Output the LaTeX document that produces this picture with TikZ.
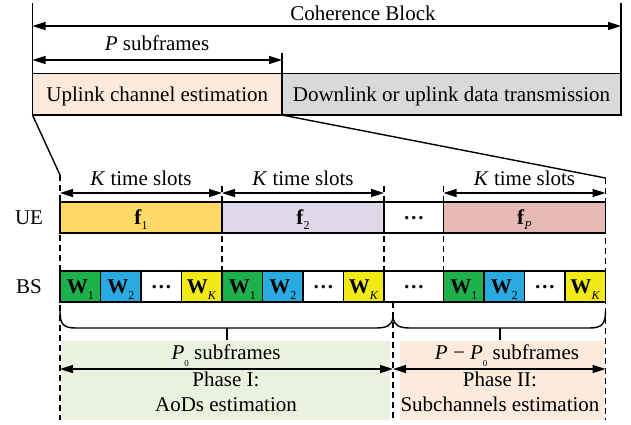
\documentclass[tikz,border=0pt]{standalone}
\usepackage{fontspec}
\setmainfont{Liberation Serif}
\usetikzlibrary{arrows.meta}
\definecolor{uplc}{RGB}{251,234,220}
\definecolor{dnc}{RGB}{217,217,217}
\definecolor{fone}{RGB}{255,217,102}
\definecolor{ftwo}{RGB}{223,216,232}
\definecolor{fpc}{RGB}{230,185,181}
\definecolor{wgreen}{RGB}{30,176,76}
\definecolor{wblue}{RGB}{41,171,226}
\definecolor{wyel}{RGB}{242,234,22}
\definecolor{phone}{RGB}{235,241,223}
\definecolor{phtwo}{RGB}{252,234,221}
\newcommand\sbsub[2]{\raisebox{#1}{\fontsize{12}{12}\selectfont #2}}
\newcommand\cdotsbox{\raisebox{5pt}{\textbf{…}}}
\begin{document}
\begin{tikzpicture}[x=1pt,y=-1pt,
  every node/.style={font=\fontsize{21}{25}\selectfont, inner sep=0pt, outer sep=0pt},
  lbl/.style={anchor=base},
  dimline/.style={{Triangle[length=13pt,width=8pt]}-{Triangle[length=13pt,width=8pt]}, line width=1.5pt},
  bigbox/.style={minimum height=42pt, text height=14pt, text depth=0pt},
  cellbox/.style={draw, line width=1.6pt, minimum height=31pt, text height=14pt, text depth=0pt},
  guide/.style={line width=1.5pt, dash pattern=on 6pt off 4pt},
  solidln/.style={line width=1.5pt}
]
\useasboundingbox (0,0) rectangle (631,424);

% bottom phase backgrounds
\fill[phone] (61,341) rectangle (390,420);
\fill[phtwo] (400,341) rectangle (605,420);

% top boxes
\node[bigbox, fill=uplc, minimum width=249.5pt] (up) at (157.25,94) {Uplink channel estimation};
\node[bigbox, fill=dnc, minimum width=339pt] (dn) at (451.5,94) {Downlink or uplink data transmission};
\draw[line width=0.9pt] (up.north west) -- (dn.north east);
\draw[line width=1.6pt] (up.north west) -- (up.south west) -- (dn.south east) -- (dn.north east);
\draw[line width=1.6pt] (up.north east) -- (up.south east);

% top dimension lines
\coordinate (tl) at (32.5,3);
\coordinate (tr) at (621,3);
\draw[solidln] (tl) -- (up.north west);
\draw[solidln] (tr) -- (dn.north east);
\coordinate (cbL) at (32.5,26);
\coordinate (cbR) at (621,26);
\draw[dimline] (cbL) -- (cbR);
\node[lbl] (cbt) at (363,20.5) {Coherence Block};
\coordinate (psL) at (32.5,60);
\coordinate (psR) at (282,60);
\coordinate (psT) at (282,53);
\draw[solidln] (psT) -- (up.north east);
\draw[dimline] (psL) -- (psR);
\node[lbl] (pst) at (157,50) {\textit{P} subframes};

% zoom lines
\coordinate (dl) at (60,175);
\coordinate (dr) at (605.5,178);
\draw[line width=1.4pt] (up.south west) -- (dl);
\draw[line width=1.4pt] (up.south east) -- (dr);

% UE row
\node[lbl] (uel) at (29,224.5) {UE};
\node[cellbox, fill=fone, minimum width=162pt] (f1) at (141,217.5) {\textbf{f}\sbsub{-5pt}{1}};
\node[cellbox, fill=ftwo, minimum width=162pt] (f2) at (303,217.5) {\textbf{f}\sbsub{-5pt}{2}};
\node[cellbox, fill=white, minimum width=59.5pt] (fd) at (413.75,217.5) {\cdotsbox};
\node[cellbox, fill=fpc, minimum width=162pt] (fp) at (524.5,217.5) {\textbf{f}\sbsub{-5pt}{\textit{P}}};

% BS row
\node[lbl] (bsl) at (29,293.5) {BS};
\foreach \g/\xs in {a/60, b/222} {
  \node[cellbox, fill=wgreen, minimum width=40.5pt] (\g1) at (\xs+20.25,286.5) {\textbf{W}\sbsub{-6pt}{1}};
  \node[cellbox, fill=wblue, minimum width=40.5pt] (\g2) at (\xs+60.75,286.5) {\textbf{W}\sbsub{-6pt}{2}};
  \node[cellbox, fill=white, minimum width=40.5pt] (\g3) at (\xs+101.25,286.5) {\cdotsbox};
  \node[cellbox, fill=wyel, minimum width=40.5pt] (\g4) at (\xs+141.75,286.5) {\textbf{W}\sbsub{-6pt}{\textit{K}}};
}
\node[cellbox, fill=white, minimum width=59.5pt] (bd) at (413.75,286.5) {\cdotsbox};
\node[cellbox, fill=wgreen, minimum width=40.5pt] (c1) at (463.75,286.5) {\textbf{W}\sbsub{-6pt}{1}};
\node[cellbox, fill=wblue, minimum width=40.5pt] (c2) at (504.25,286.5) {\textbf{W}\sbsub{-6pt}{2}};
\node[cellbox, fill=white, minimum width=40.5pt] (c3) at (544.75,286.5) {\cdotsbox};
\node[cellbox, fill=wyel, minimum width=40.5pt] (c4) at (585.25,286.5) {\textbf{W}\sbsub{-6pt}{\textit{K}}};

% K time slot dimension lines
\coordinate (k1L) at (60,193);
\coordinate (k1R) at (222,193);
\coordinate (k2R) at (384,193);
\coordinate (k3L) at (443.5,193);
\coordinate (k3R) at (605.5,193);
\draw[dimline] (k1L) -- (k1R);
\draw[dimline] (k1R) -- (k2R);
\draw[dimline] (k3L) -- (k3R);
\node[lbl] (kt1) at (141,185) {\textit{K} time slots};
\node[lbl] (kt2) at (303,185) {\textit{K} time slots};
\node[lbl] (kt3) at (524.5,185) {\textit{K} time slots};

% guide lines
\coordinate (gb1) at (60,420);
\coordinate (gb2) at (393,420);
\coordinate (gb3) at (605.5,420);
\coordinate (gt2) at (393,302);
\coordinate (ga) at (222,186);
\coordinate (gb) at (384,186);
\coordinate (gc) at (443.5,186);
\draw[guide] (dl) -- (gb1);
\draw[guide] (dr) -- (gb3);
\draw[guide] (gt2) -- (gb2);
\draw[guide] (ga) -- (b1.north west);
\draw[guide] (gb) -- (bd.north west);
\draw[guide] (gc) -- (c1.north west);

% braces
\draw[line width=1.4pt] (60,311) .. controls (60,324) and (63,328) .. (76,328) -- (376,328) .. controls (387,328) and (392,325) .. (393,318)
  .. controls (394,325) and (399,328) .. (410,328) -- (589,328) .. controls (602,328) and (605.5,324) .. (605.5,311);
\coordinate (br1) at (226.5,328);
\coordinate (br1b) at (226.5,340);
\coordinate (br2) at (499.5,328);
\coordinate (br2b) at (499.5,340);
\draw[line width=2pt] (br1) -- (br1b);
\draw[line width=2pt] (br2) -- (br2b);

% phase dimension lines
\coordinate (phL) at (60,369);
\coordinate (phM) at (393,369);
\coordinate (phR) at (605.5,369);
\draw[dimline] (phL) -- (phM);
\draw[dimline] (phM) -- (phR);
\node[lbl] (p0t) at (226,359) {\textit{P}\raisebox{-7pt}{\fontsize{9}{9}\selectfont 0} subframes};
\node[lbl] (ph1) at (226,386) {Phase I:};
\node[lbl] (ph1b) at (226,411.5) {AoDs estimation};
\node[lbl] (p1t) at (507,359) {\textit{P} − \textit{P}\raisebox{-7pt}{\fontsize{9}{9}\selectfont 0} subframes};
\node[lbl] (ph2) at (500,386) {Phase II:};
\node[lbl] (ph2b) at (500,411.5) {Subchannels estimation};
\end{tikzpicture}
\end{document}
